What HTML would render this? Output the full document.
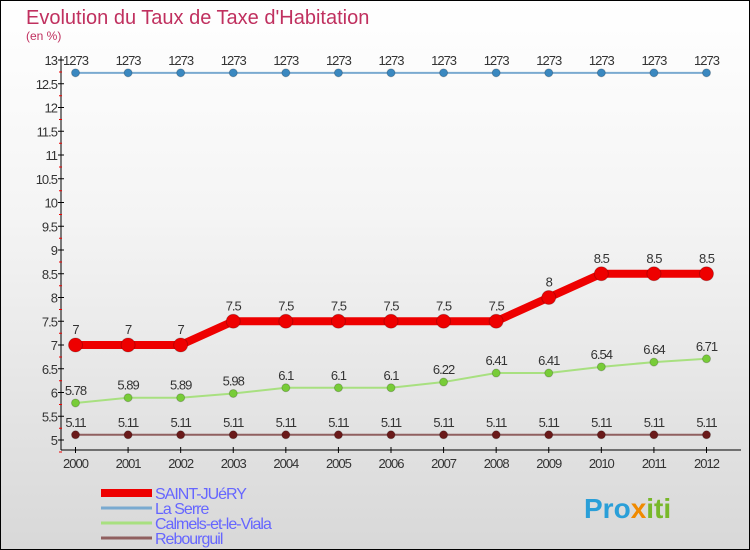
<!DOCTYPE html>
<html><head><meta charset="utf-8"><style>
html,body{margin:0;padding:0}
body{width:750px;height:550px;overflow:hidden;font-family:"Liberation Sans",sans-serif}
#wrap{position:relative;width:748px;height:548px;border:1px solid #000;background:linear-gradient(#ffffff 0%,#f4f4f4 40%,#d8d8d8 100%)}
</style></head><body>
<div id="wrap">
<svg id="chart" width="748" height="548" style="position:absolute;left:0;top:0">
<text x="25" y="23" font-size="20" fill="#c0305f">Evolution du Taux de Taxe d'Habitation</text>
<text x="25" y="39" font-size="12" fill="#c0305f">(en %)</text>
<g id="axes"></g><g id="series"></g><g id="legend"></g>
<text x="583" y="517" font-size="28" font-weight="bold" fill="#2a9fd8">Pro<tspan fill="#f08a00">x</tspan><tspan fill="#78b82a">iti</tspan></text>
</svg>
</div>
<script>
const years=[2000,2001,2002,2003,2004,2005,2006,2007,2008,2009,2010,2011,2012];
const saintJuery=[7,7,7,7.5,7.5,7.5,7.5,7.5,7.5,8,8.5,8.5,8.5];
const laSerre=[12.73,12.73,12.73,12.73,12.73,12.73,12.73,12.73,12.73,12.73,12.73,12.73,12.73];
const calmels=[5.78,5.89,5.89,5.98,6.1,6.1,6.1,6.22,6.41,6.41,6.54,6.64,6.71];
const rebourguil=[5.11,5.11,5.11,5.11,5.11,5.11,5.11,5.11,5.11,5.11,5.11,5.11,5.11];
const yTicks=[5,5.5,6,6.5,7,7.5,8,8.5,9,9.5,10,10.5,11,11.5,12,12.5,13];
const seriesNames=["SAINT-JUéRY","La Serre","Calmels-et-le-Viala","Rebourguil"];
const NS="http://www.w3.org/2000/svg";
const x=i=>74.5+i*(705.5-74.5)/(years.length-1);
const y=v=>439-(v-5)*47.5;
function mk(t,a,p){const e=document.createElementNS(NS,t);for(const k in a)e.setAttribute(k,a[k]);p.appendChild(e);return e;}
const ax=document.getElementById('axes');
let l=mk('line',{x1:60,y1:55,x2:60,y2:449,stroke:'#000'},ax);


l=mk('line',{x1:60,y1:449,x2:740,y2:449,stroke:'#000'},ax);


yTicks.forEach(v=>{
  mk('line',{x1:57,y1:y(v),x2:63,y2:y(v),stroke:'#000'},ax);
  mk('line',{x1:58,y1:y(v)+12,x2:61,y2:y(v)+12,stroke:'#e00'},ax);
  const t=mk('text',{x:56,y:y(v)+5,'font-size':13,'text-anchor':'end',fill:'#333','letter-spacing':'-1'},ax);
  t.textContent=String(v);
  
  
});
years.forEach((yr,i)=>{
  mk('line',{x1:x(i),y1:446,x2:x(i),y2:452,stroke:'#000'},ax);
  const t=mk('text',{x:x(i),y:467,'font-size':13,'text-anchor':'middle',fill:'#333','letter-spacing':'-1'},ax);
  t.textContent=yr;
  
  
});
const sg=document.getElementById('series');
const defs=[
 {d:laSerre,c:'#7aaad0',pc:'#3a88c0',w:2,r:4,lbl:v=>String(v).replace('.',''),name:'la-serre'},
 {d:calmels,c:'#a8e080',pc:'#78cc38',w:2,r:4,lbl:v=>String(v),name:'calmels'},
 {d:rebourguil,c:'#906060',pc:'#6a1a1a',w:2,r:4,lbl:v=>String(v),name:'rebourguil'},
 {d:saintJuery,c:'#ee0000',pc:'#ee0000',w:8,r:7,lbl:v=>String(v),name:'saint-juery'}];
defs.forEach(s=>{
  const g=mk('g',{},sg);
  
  
  const p=mk('polyline',{points:s.d.map((v,i)=>x(i)+','+y(v)).join(' '),fill:'none',stroke:s.c,'stroke-width':s.w,'stroke-linejoin':'round'},g);
  
  
  s.d.forEach((v,i)=>{
    const c=mk('circle',{cx:x(i),cy:y(v),r:s.r,fill:s.pc,stroke:'rgba(0,0,0,0.2)'},g);
    
    
    const t=mk('text',{x:x(i),y:y(v)-(s.w>4?11:8),'font-size':13,'text-anchor':'middle',fill:'#333','letter-spacing':'-1'},g);
    t.textContent=s.lbl(v);
    
    
  });
});
const lg=document.getElementById('legend');
const lc=['#ee0000','#7aaad0','#a8e080','#906060'],lw=[8,3,3,3];
seriesNames.forEach((n,i)=>{
  const yy=492+i*15;
  const e=mk('line',{x1:100,y1:yy,x2:151,y2:yy,stroke:lc[i],'stroke-width':lw[i]},lg);
  
  
  const t=mk('text',{x:154,y:yy+6,'font-size':16,fill:'#6666ff','letter-spacing':'-1'},lg);
  t.textContent=n;
  
  
});
</script>
</body></html>
